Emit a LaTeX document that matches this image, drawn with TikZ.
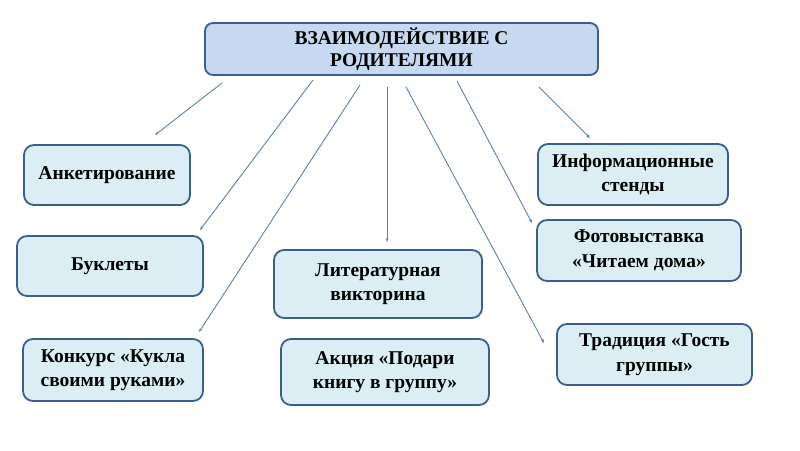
\documentclass[tikz,border=0pt]{standalone}
\usepackage{fontspec}
\setmainfont{Liberation Serif}
\usetikzlibrary{arrows.meta}
\definecolor{topfill}{HTML}{C6D9F1}
\definecolor{boxfill}{HTML}{DAEEF3}
\definecolor{boxdraw}{HTML}{3B5E8C}
\definecolor{linkcol}{HTML}{5A7FB5}
\begin{document}
\begin{tikzpicture}[x=1pt,y=-1pt,
  box/.style={draw=boxdraw, line width=1.8pt, fill=boxfill, rounded corners=10pt,
    inner sep=0pt, align=center, font=\fontsize{19.5}{24.5}\selectfont\bfseries},
  topbox/.style={box, fill=topfill, rounded corners=8pt, font=\fontsize{19.5}{22}\selectfont\bfseries},
  link/.style={draw=linkcol, line width=0.9pt, -{Stealth[length=4pt,width=3pt]}}]
\useasboundingbox (0,0) rectangle (800,450);
\node[topbox, minimum width=393pt, minimum height=52pt] (top) at (401.5,49) {ВЗАИМОДЕЙСТВИЕ С\\РОДИТЕЛЯМИ};
\node[box, minimum width=166pt, minimum height=60pt] (ank) at (107,175) {Анкетирование};
\node[box, minimum width=186pt, minimum height=60pt] (buk) at (110,266) {Буклеты};
\node[box, minimum width=180pt, minimum height=62pt] (konk) at (113,370) {Конкурс «Кукла\\своими руками»};
\node[box, minimum width=208pt, minimum height=68pt] (lit) at (378,284) {Литературная\\викторина};
\node[box, minimum width=208pt, minimum height=66pt] (akc) at (385,372) {Акция «Подари\\книгу в группу»};
\node[box, minimum width=190pt, minimum height=61pt] (inf) at (633,174.5) {Информационные\\стенды};
\node[box, minimum width=204pt, minimum height=61pt] (foto) at (639,250.5) {Фотовыставка\\«Читаем дома»};
\node[box, minimum width=195pt, minimum height=61pt] (trad) at (654.5,354.5) {Традиция «Гость\\группы»};
% free ends of connectors
\coordinate (s1) at (222,83);  \coordinate (e1) at (155,135);
\coordinate (s2) at (313,80);  \coordinate (e2) at (200,230);
\coordinate (s3) at (360,85);  \coordinate (e3) at (199,332);
\coordinate (s4) at (387,87);  \coordinate (e4) at (387,242);
\coordinate (s5) at (406,87);  \coordinate (e5) at (544,343);
\coordinate (s6) at (457,81);  \coordinate (e6) at (532,223);
\coordinate (s7) at (539,87);  \coordinate (e7) at (590,138);
\draw[link] (s1) -- (e1);
\draw[link] (s2) -- (e2);
\draw[link] (s3) -- (e3);
\draw[link] (s4) -- (e4);
\draw[link] (s5) -- (e5);
\draw[link] (s6) -- (e6);
\draw[link] (s7) -- (e7);
\end{tikzpicture}
\end{document}
